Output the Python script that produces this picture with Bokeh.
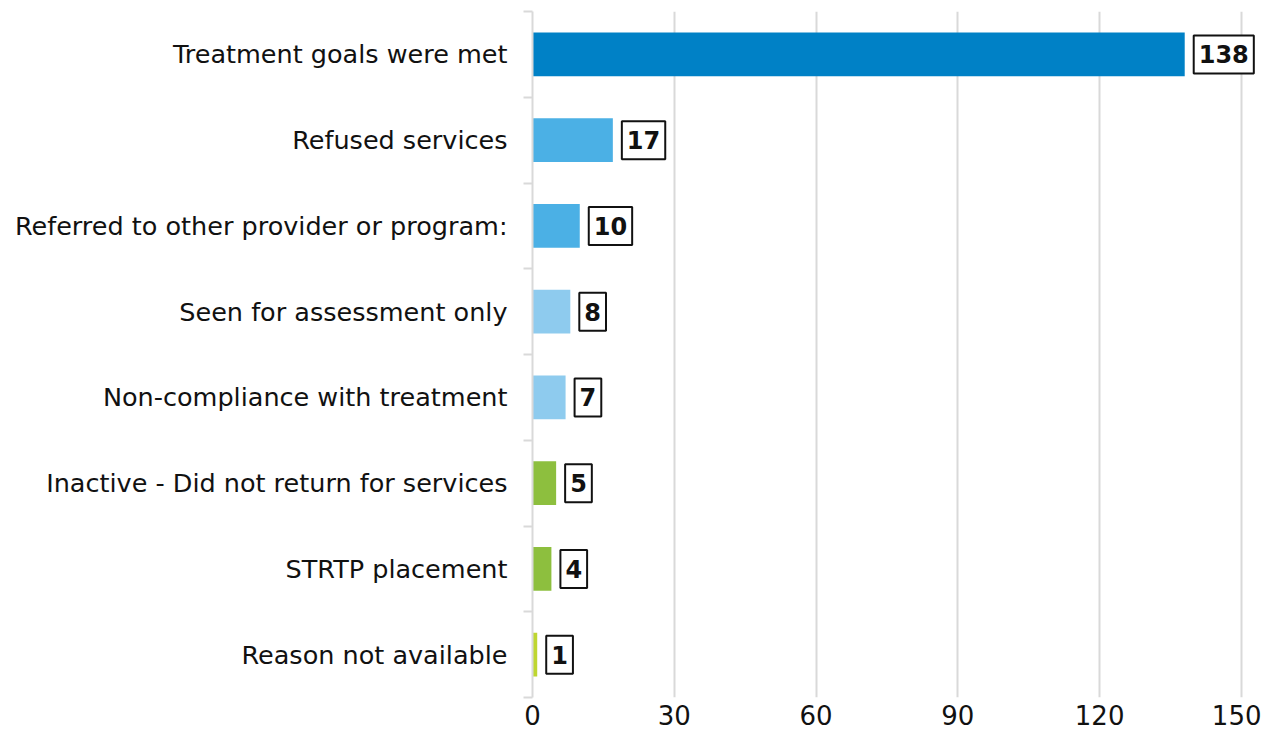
from bokeh.plotting import figure
from bokeh.models import Range1d, FixedTicker, LinearAxis, ColumnDataSource
from bokeh.core.properties import value
from bokeh.embed import file_html
from bokeh.resources import INLINE

categories = [
    "Treatment goals were met",
    "Refused services",
    "Referred to other provider or program:",
    "Seen for assessment only",
    "Non-compliance with treatment",
    "Inactive - Did not return for services",
    "STRTP placement",
    "Reason not available",
]
counts = [138, 17, 10, 8, 7, 5, 4, 1]
bar_colors = ["#0081C6", "#4BB0E5", "#4BB0E5", "#8ECBEE", "#8ECBEE",
              "#8DBF3E", "#8DBF3E", "#BED630"]
x_ticks = [0, 30, 60, 90, 120, 150]

FONT = "DejaVu Sans"
n = len(categories)
centers = [n - i - 0.5 for i in range(n)]

src = ColumnDataSource(dict(
    y=centers, v=counts, c=bar_colors, lbl=[str(v) for v in counts]))

p = figure(width=1261, height=735, output_backend="svg", toolbar_location=None,
           x_range=Range1d(0, 153.4), y_range=Range1d(0, n),
           min_border_left=532, min_border_right=4, min_border_top=11,
           min_border_bottom=38, y_axis_location=None)
p.outline_line_color = None
p.background_fill_color = "white"

p.hbar(y="y", right="v", left=0, height=0.51, fill_color="c",
       line_color=None, source=src)
p.text(x="v", y="y", text="lbl", source=src, x_offset=9,
       text_align="left", text_baseline="middle",
       text_font=value(FONT), text_font_style="bold", text_font_size="24px",
       text_color="#111111", border_line_color="#111111", border_line_width=2,
       background_fill_color="white", padding=(5, 10))

# x axis
xa = p.xaxis[0]
xa.ticker = FixedTicker(ticks=x_ticks)
xa.axis_line_color = None
xa.major_tick_line_color = None
xa.minor_tick_line_color = None
xa.major_tick_out = 0
xa.major_tick_in = 0
xa.major_label_standoff = 7
xa.major_label_text_font = FONT
xa.major_label_text_font_size = "26px"
xa.major_label_text_color = "#111111"

p.xgrid.ticker = FixedTicker(ticks=x_ticks)
p.xgrid.grid_line_color = "#D9D9D9"
p.xgrid.grid_line_width = 2
p.ygrid.grid_line_color = None

# y axis: labels at centers, ticks at boundaries
ya = LinearAxis(ticker=FixedTicker(ticks=centers, minor_ticks=list(range(n + 1))))
ya.major_label_overrides = {c: cat for c, cat in zip(centers, categories)}
ya.major_tick_line_color = None
ya.major_tick_out = 0
ya.major_tick_in = 0
ya.minor_tick_out = 9
ya.minor_tick_in = 0
ya.minor_tick_line_color = "#D9D9D9"
ya.minor_tick_line_width = 2
ya.axis_line_color = "#D9D9D9"
ya.axis_line_width = 2
ya.major_label_standoff = 16
ya.major_label_text_font = FONT
ya.major_label_text_font_size = "25.5px"
ya.major_label_text_color = "#111111"
p.add_layout(ya, "left")

open("out.html", "w").write(file_html(p, INLINE))
